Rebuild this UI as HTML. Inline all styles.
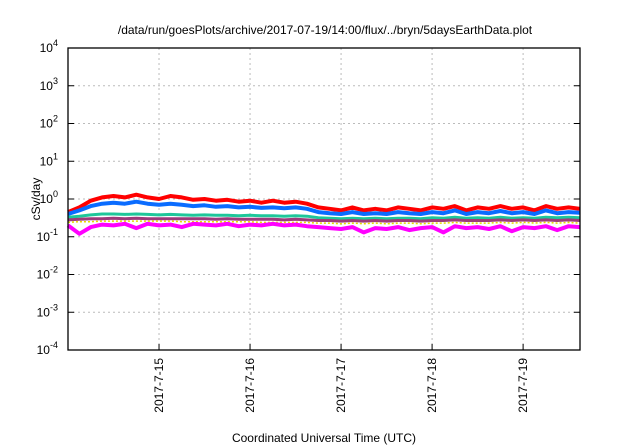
<!DOCTYPE html>
<html><head><meta charset="utf-8"><style>
body{margin:0;background:#fff;}
svg{display:block;font-family:"Liberation Sans",sans-serif;}
</style></head><body>
<svg id="chart" width="640" height="448" viewBox="0 0 640 448">
<text x="325" y="34" font-size="12" text-anchor="middle" fill="#000">/data/run/goesPlots/archive/2017-07-19/14:00/flux/../bryn/5daysEarthData.plot</text>
<g id="grid"></g>
<g id="series"></g>
<rect x="68" y="48" width="512" height="302" fill="none" stroke="#000" stroke-width="1.3"/>
<g id="axes"></g>
<text transform="translate(40,199) rotate(-90)" font-size="12" text-anchor="middle">cSv/day</text>
<text x="324" y="442" font-size="12" text-anchor="middle">Coordinated Universal Time (UTC)</text>
</svg>
<script>
const yExps=[-4,-3,-2,-1,0,1,2,3,4];
const xTickLabels=["2017-7-15","2017-7-16","2017-7-17","2017-7-18","2017-7-19"];
const xTickHours=[24,48,72,96,120];
const hours=[0,3,6,9,12,15,18,21,24,27,30,33,36,39,42,45,48,51,54,57,60,63,66,69,72,75,78,81,84,87,90,93,96,99,102,105,108,111,114,117,120,123,126,129,132,135];
const red=[0.45,0.6,0.9,1.1,1.2,1.1,1.3,1.1,1.0,1.2,1.1,0.95,1.0,0.9,0.95,0.85,0.9,0.8,0.9,0.8,0.85,0.75,0.6,0.55,0.5,0.6,0.5,0.55,0.5,0.6,0.55,0.5,0.6,0.55,0.65,0.5,0.6,0.55,0.65,0.55,0.6,0.5,0.65,0.55,0.6,0.55];
const blue=[0.4,0.5,0.65,0.75,0.8,0.75,0.85,0.75,0.7,0.75,0.7,0.65,0.68,0.62,0.65,0.6,0.62,0.58,0.6,0.57,0.6,0.55,0.45,0.42,0.4,0.45,0.4,0.42,0.4,0.45,0.42,0.4,0.45,0.42,0.5,0.4,0.45,0.42,0.48,0.42,0.45,0.4,0.5,0.42,0.45,0.43];
const teal=[0.33,0.35,0.38,0.4,0.4,0.39,0.4,0.39,0.38,0.39,0.38,0.37,0.38,0.37,0.37,0.36,0.37,0.36,0.36,0.35,0.36,0.35,0.32,0.31,0.3,0.31,0.3,0.31,0.3,0.31,0.31,0.3,0.32,0.31,0.33,0.31,0.32,0.31,0.33,0.31,0.32,0.31,0.33,0.32,0.33,0.32];
const purple=[0.28,0.29,0.3,0.3,0.31,0.3,0.31,0.3,0.3,0.3,0.3,0.3,0.3,0.29,0.3,0.29,0.29,0.29,0.29,0.28,0.29,0.28,0.27,0.27,0.26,0.27,0.26,0.27,0.26,0.27,0.27,0.26,0.27,0.27,0.28,0.27,0.27,0.27,0.28,0.27,0.28,0.27,0.28,0.27,0.28,0.27];
const yellow=[0.24,0.25,0.25,0.26,0.26,0.26,0.26,0.26,0.26,0.26,0.25,0.25,0.25,0.25,0.25,0.25,0.25,0.24,0.24,0.24,0.24,0.24,0.23,0.23,0.22,0.23,0.22,0.23,0.22,0.23,0.23,0.22,0.23,0.23,0.24,0.23,0.23,0.23,0.24,0.23,0.24,0.23,0.24,0.23,0.24,0.23];
const magenta=[0.2,0.12,0.18,0.21,0.2,0.22,0.17,0.22,0.2,0.21,0.18,0.22,0.21,0.2,0.22,0.19,0.21,0.2,0.22,0.2,0.21,0.19,0.18,0.17,0.16,0.18,0.13,0.17,0.16,0.18,0.15,0.17,0.18,0.13,0.19,0.17,0.18,0.16,0.19,0.14,0.18,0.17,0.19,0.15,0.19,0.18];
const NS="http://www.w3.org/2000/svg";
const X0=68,X1=580,Y0=48,Y1=350,H0=0,H1=135;
function xs(h){return X0+(h-H0)/(H1-H0)*(X1-X0);}
function ys(v){return Y1-(Math.log10(v)+4)/8*(Y1-Y0);}
function mk(t,a,p){const e=document.createElementNS(NS,t);for(const k in a)e.setAttribute(k,a[k]);p.appendChild(e);return e;}
const grid=document.getElementById('grid'),axes=document.getElementById('axes'),ser=document.getElementById('series');
yExps.forEach(ex=>{
  const y=Y1-(ex+4)/8*(Y1-Y0);
  if(ex>-4&&ex<4){const g=mk('line',{x1:X0,x2:X1,y1:y,y2:y,stroke:'#bbb','stroke-dasharray':'2,3','stroke-width':1},grid);
  
  }
  const t1=mk('line',{x1:X0,x2:X0+6,y1:y,y2:y,stroke:'#000'},axes);
  
  
  const t2=mk('line',{x1:X1-6,x2:X1,y1:y,y2:y,stroke:'#000'},axes);
  
  
  const tx=mk('text',{x:58,y:y+4,'font-size':12,'text-anchor':'end'},axes);
  
  
  tx.textContent='10';
  const sp=mk('tspan',{dy:-6,'font-size':9},tx);sp.textContent=String(ex);
});
xTickHours.forEach((h,i)=>{
  const x=xs(h);
  const g=mk('line',{x1:x,x2:x,y1:Y0,y2:Y1,stroke:'#bbb','stroke-dasharray':'2,3'},grid);
  
  
  const t=mk('line',{x1:x,x2:x,y1:Y1-6,y2:Y1,stroke:'#000'},axes);
  
  
  const tx=mk('text',{transform:`translate(${x+4},358) rotate(-90)`,'font-size':12,'text-anchor':'end'},axes);
  
  
  tx.textContent=xTickLabels[i];
});
const list=[[red,'#ff0000',4,'red-series'],[blue,'#0a6cff',4,'blue-series'],[teal,'#1ec79a',3,'teal-series'],[purple,'#9c3b7a',3,'purple-series'],[yellow,'#e8d800',1.5,'yellow-series'],[magenta,'#ff00ff',4,'magenta-series']];
list.forEach(([d,c,w,n])=>{
  const pts=d.map((v,i)=>xs(hours[i]).toFixed(1)+','+ys(v).toFixed(1)).join(' ');
  const p=mk('polyline',{points:pts,fill:'none',stroke:c,'stroke-width':w,'stroke-linejoin':'round'},ser);
  if(n==='yellow-series')p.setAttribute('stroke-dasharray','2,2');
  
  
});
</script>
</body></html>
